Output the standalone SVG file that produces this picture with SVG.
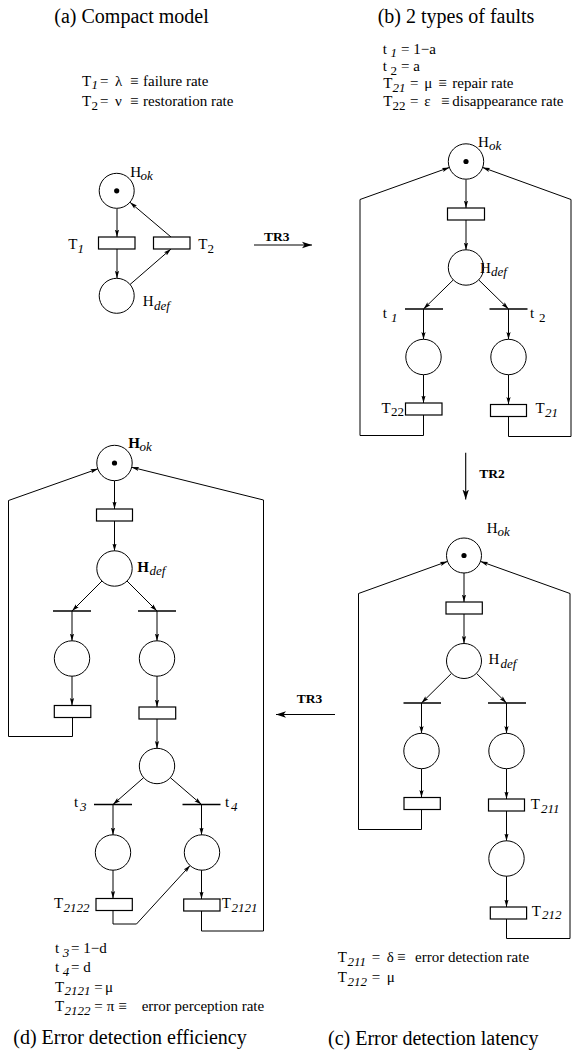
<svg xmlns="http://www.w3.org/2000/svg" width="572" height="1053" viewBox="0 0 572 1053">
<style>
text{font-family:"Liberation Serif","Times New Roman",serif;font-size:15px;fill:#000}
.ttl{font-size:20px}
.sub{font-size:13px;font-style:italic}
.up{font-style:normal}
.tr{font-size:13.5px;font-weight:bold}
.b{font-weight:bold}
.pl{fill:#fff;stroke:#000;stroke-width:1}
.tk{fill:#000}
.tt{fill:#fff;stroke:#000;stroke-width:1.2}
.bar{stroke:#000;stroke-width:1.3}
.c{fill:none;stroke:#000;stroke-width:1;marker-end:url(#ah)}
.n{fill:none;stroke:#000;stroke-width:1}
.big{fill:none;stroke:#000;stroke-width:1.1;marker-end:url(#bh)}
</style>
<defs>
<marker id="ah" markerUnits="userSpaceOnUse" markerWidth="8" markerHeight="6" refX="7.5" refY="3" orient="auto"><path d="M0,0.9 L7.5,3 L0,5.1 L1.5,3 z" fill="#000"/></marker>
<marker id="bh" markerUnits="userSpaceOnUse" markerWidth="11" markerHeight="8" refX="10" refY="4" orient="auto"><path d="M0,0.8 L10,4 L0,7.2 L2.5,4 z" fill="#000"/></marker>
</defs>
<rect width="572" height="1053" fill="#fff"/>

<!-- Titles and formulas -->
<g id="titles">
<text class="ttl" x="54.3" y="23">(a) Compact model</text>
<text class="ttl" x="377.7" y="23">(b) 2 types of faults</text>
<text class="ttl" x="13.3" y="1044">(d) Error detection efficiency</text>
<text class="ttl" x="328" y="1045">(c) Error detection latency</text>
</g>
<g id="formulas-a">
<text><tspan x="82" y="86">T</tspan><tspan class="sub" x="91.5" y="89">1</tspan><tspan x="100" y="86">=</tspan><tspan x="115" y="86">λ</tspan><tspan x="130" y="86">≡</tspan><tspan x="143" y="86">failure rate</tspan></text>
<text><tspan x="82" y="106">T</tspan><tspan class="sub up" x="91.5" y="109.5">2</tspan><tspan x="100" y="106">=</tspan><tspan x="115" y="106">ν</tspan><tspan x="130" y="106">≡</tspan><tspan x="143" y="106">restoration rate</tspan></text>
</g>
<g id="formulas-b">
<text><tspan x="382.7" y="53.5">t</tspan><tspan class="sub" x="390.5" y="57">1</tspan><tspan x="401" y="53.5">= 1−a</tspan></text>
<text><tspan x="382.7" y="71">t</tspan><tspan class="sub up" x="390.5" y="75">2</tspan><tspan x="401" y="71">= a</tspan></text>
<text><tspan x="383.3" y="88">T</tspan><tspan class="sub" x="392.5" y="91.5">21</tspan><tspan x="410" y="88">=</tspan><tspan x="424.3" y="88">μ</tspan><tspan x="438.3" y="88">≡</tspan><tspan x="452.3" y="88">repair rate</tspan></text>
<text><tspan x="383.3" y="106">T</tspan><tspan class="sub up" x="392.5" y="109.5">22</tspan><tspan x="410" y="106">=</tspan><tspan x="424.3" y="106">ε</tspan><tspan x="441" y="106">≡</tspan><tspan x="452.3" y="106">disappearance rate</tspan></text>
</g>
<g id="formulas-c">
<text><tspan x="337.7" y="962">T</tspan><tspan class="sub" x="347.5" y="965.5">211</tspan><tspan x="371.7" y="962">=</tspan><tspan x="386.7" y="962">δ</tspan><tspan x="397" y="962">≡</tspan><tspan x="415" y="962">error detection rate</tspan></text>
<text><tspan x="337.7" y="982">T</tspan><tspan class="sub" x="347.5" y="985.5">212</tspan><tspan x="371.7" y="982">=</tspan><tspan x="386.7" y="982">μ</tspan></text>
</g>
<g id="formulas-d">
<text><tspan x="55" y="953">t</tspan><tspan class="sub" x="62.7" y="957">3</tspan><tspan x="71" y="953">= 1−d</tspan></text>
<text><tspan x="55" y="972">t</tspan><tspan class="sub" x="62.7" y="976">4</tspan><tspan x="71" y="972">= d</tspan></text>
<text><tspan x="55" y="991.5">T</tspan><tspan class="sub" x="64.5" y="995">2121</tspan><tspan x="94.3" y="991.5">=</tspan><tspan x="105" y="991.5">μ</tspan></text>
<text><tspan x="55" y="1011">T</tspan><tspan class="sub" x="64.5" y="1014.5">2122</tspan><tspan x="94.3" y="1011">=</tspan><tspan x="106.7" y="1011">π</tspan><tspan x="118.3" y="1011">≡</tspan><tspan x="141.7" y="1011">error perception rate</tspan></text>
</g>

<!-- Connectors -->
<g id="connectors">
<!-- (a) -->
<line class="c" x1="117" y1="208.5" x2="117" y2="237"/>
<line class="c" x1="117" y1="249" x2="117" y2="278.3"/>
<line class="c" x1="130" y1="284.5" x2="171" y2="249"/>
<line class="c" x1="171" y1="237" x2="130" y2="202.3"/>
<!-- TR arrows -->
<line class="big" x1="254" y1="245" x2="312" y2="245"/>
<line class="big" x1="465.7" y1="452.7" x2="465.7" y2="499.5"/>
<line class="big" x1="335" y1="714.5" x2="276" y2="714.5"/>
<!-- (b) -->
<line class="c" x1="466" y1="179.5" x2="466" y2="208"/>
<line class="c" x1="466" y1="220" x2="466" y2="250"/>
<line class="c" x1="453.5" y1="279.7" x2="423.5" y2="309"/>
<line class="c" x1="478.5" y1="279.7" x2="508.5" y2="309"/>
<line class="c" x1="423.5" y1="309" x2="423.5" y2="339.5"/>
<line class="c" x1="508.5" y1="309" x2="508.5" y2="339.5"/>
<line class="c" x1="423.5" y1="374.5" x2="423.5" y2="403"/>
<line class="c" x1="508.5" y1="374.5" x2="508.5" y2="404.5"/>
<polyline class="c" points="423.5,415 423.5,435.5 360,435.5 360,199.5 449.5,167.4"/>
<polyline class="c" points="508.5,416.5 508.5,436.5 571,436.5 571,199.5 482.5,167.4"/>
<!-- (c) -->
<line class="c" x1="464" y1="573" x2="464" y2="602"/>
<line class="c" x1="464" y1="614" x2="464" y2="643.5"/>
<line class="c" x1="451.6" y1="673.3" x2="421.5" y2="703"/>
<line class="c" x1="476.4" y1="673.3" x2="506.5" y2="703"/>
<line class="c" x1="421.5" y1="703" x2="421.5" y2="733.5"/>
<line class="c" x1="506.5" y1="703" x2="506.5" y2="733.5"/>
<line class="c" x1="421.5" y1="768.5" x2="421.5" y2="797.5"/>
<line class="c" x1="506.5" y1="768.5" x2="506.5" y2="799"/>
<line class="c" x1="506.5" y1="811" x2="506.5" y2="841"/>
<line class="c" x1="506.5" y1="876" x2="506.5" y2="907"/>
<polyline class="c" points="421.5,809.5 421.5,829.5 358.5,829.5 358.5,593.5 447.5,561.4"/>
<polyline class="c" points="506.5,919 506.5,938.5 570,938.5 570,593.5 480.5,561.4"/>
<!-- (d) -->
<line class="c" x1="114.5" y1="480.5" x2="114.5" y2="509"/>
<line class="c" x1="114.5" y1="521" x2="114.5" y2="551"/>
<line class="c" x1="102.1" y1="580.9" x2="72" y2="611"/>
<line class="c" x1="126.9" y1="580.9" x2="157" y2="611"/>
<line class="c" x1="72" y1="611" x2="72" y2="641"/>
<line class="c" x1="157" y1="611" x2="157" y2="641"/>
<line class="c" x1="72" y1="676" x2="72" y2="705.5"/>
<line class="c" x1="157" y1="676" x2="157" y2="707"/>
<line class="c" x1="157" y1="719" x2="157" y2="748.5"/>
<line class="c" x1="143.8" y1="777.5" x2="113" y2="804.5"/>
<line class="c" x1="170.2" y1="777.5" x2="201.5" y2="804.5"/>
<line class="c" x1="113" y1="804.5" x2="113" y2="835"/>
<line class="c" x1="201.5" y1="804.5" x2="201.5" y2="835"/>
<line class="c" x1="113" y1="870" x2="113" y2="898.5"/>
<line class="c" x1="201.5" y1="870" x2="201.5" y2="899"/>
<polyline class="c" points="113,910.5 113,924 136.5,924 190.2,865.4"/>
<polyline class="c" points="72.5,717.5 72.5,736.5 8.5,736.5 8.5,500.5 98,468.8"/>
<polyline class="c" points="201.5,911 201.5,931 263.5,931 263.5,500 131.5,467.2"/>
</g>

<g id="tr-labels">
<text class="tr" x="264" y="241">TR3</text>
<text class="tr" x="479.3" y="478">TR2</text>
<text class="tr" x="296.7" y="703">TR3</text>
</g>

<!-- (a) nodes -->
<g id="a-Hok"><circle class="pl" cx="116.7" cy="190.8" r="17.5"/><circle class="tk" cx="116.7" cy="190.8" r="2.6"/>
<text><tspan x="130.3" y="177">H</tspan><tspan class="sub" x="140.5" y="180">ok</tspan></text></g>
<g id="a-T1"><rect class="tt" x="98.5" y="237" width="36.5" height="12"/>
<text><tspan x="68.3" y="249">T</tspan><tspan class="sub" x="77.5" y="252.5">1</tspan></text></g>
<g id="a-T2"><rect class="tt" x="153.5" y="237" width="36.5" height="12"/>
<text><tspan x="198.3" y="249">T</tspan><tspan class="sub up" x="207.5" y="252.5">2</tspan></text></g>
<g id="a-Hdef"><circle class="pl" cx="116.7" cy="295.8" r="17.5"/>
<text><tspan x="142.7" y="306">H</tspan><tspan class="sub" x="154" y="309.5">def</tspan></text></g>

<!-- (b) nodes -->
<g id="b-Hok"><circle class="pl" cx="466" cy="161.5" r="17.7"/><circle class="tk" cx="466" cy="161.5" r="2.6"/>
<text><tspan x="478" y="146.5">H</tspan><tspan class="sub" x="489" y="149.5">ok</tspan></text></g>
<g id="b-T"><rect class="tt" x="447.5" y="208" width="37" height="12"/></g>
<g id="b-Hdef"><circle class="pl" cx="466" cy="267.5" r="17.7"/>
<text><tspan x="480" y="272.7">H</tspan><tspan class="sub" x="491" y="276">def</tspan></text></g>
<g id="b-t1"><line class="bar" x1="405" y1="309" x2="443" y2="309"/>
<text><tspan x="382.7" y="318.3">t</tspan><tspan class="sub" x="391" y="322">1</tspan></text></g>
<g id="b-t2"><line class="bar" x1="489.5" y1="309" x2="527.5" y2="309"/>
<text><tspan x="530" y="318.3">t</tspan><tspan class="sub up" x="539" y="322">2</tspan></text></g>
<g id="b-P1"><circle class="pl" cx="423.5" cy="357" r="17.7"/></g>
<g id="b-P2"><circle class="pl" cx="508.5" cy="357" r="17.7"/></g>
<g id="b-T22"><rect class="tt" x="405.5" y="403" width="36.5" height="12"/>
<text><tspan x="381.5" y="412.5">T</tspan><tspan class="sub up" x="391" y="416">22</tspan></text></g>
<g id="b-T21"><rect class="tt" x="490.5" y="404.5" width="36" height="12"/>
<text><tspan x="535.5" y="413">T</tspan><tspan class="sub" x="545" y="416.5">21</tspan></text></g>

<!-- (c) nodes -->
<g id="c-Hok"><circle class="pl" cx="464" cy="555.5" r="17.5"/><circle class="tk" cx="464" cy="555.5" r="2.6"/>
<text><tspan x="486.7" y="533">H</tspan><tspan class="sub" x="497.5" y="536">ok</tspan></text></g>
<g id="c-T"><rect class="tt" x="446" y="602" width="36.3" height="12"/></g>
<g id="c-Hdef"><circle class="pl" cx="464" cy="661" r="17.5"/>
<text><tspan x="488.5" y="664">H</tspan><tspan class="sub" x="500.5" y="667.5">def</tspan></text></g>
<g id="c-t1"><line class="bar" x1="403.5" y1="703" x2="441" y2="703"/></g>
<g id="c-t2"><line class="bar" x1="488" y1="703" x2="526" y2="703"/></g>
<g id="c-P1"><circle class="pl" cx="421.5" cy="751" r="17.7"/></g>
<g id="c-P2"><circle class="pl" cx="506.5" cy="751" r="17.7"/></g>
<g id="c-T22"><rect class="tt" x="404" y="797.5" width="36.3" height="12"/></g>
<g id="c-T211"><rect class="tt" x="488.5" y="799" width="36" height="12"/>
<text><tspan x="530.7" y="809.3">T</tspan><tspan class="sub" x="541" y="812.5">211</tspan></text></g>
<g id="c-P3"><circle class="pl" cx="506.5" cy="858.5" r="17.7"/></g>
<g id="c-T212"><rect class="tt" x="490.3" y="907" width="36.3" height="12"/>
<text><tspan x="531.7" y="915.7">T</tspan><tspan class="sub" x="542" y="919">212</tspan></text></g>

<!-- (d) nodes -->
<g id="d-Hok"><circle class="pl" cx="114.5" cy="463" r="17.7"/><circle class="tk" cx="114.5" cy="463" r="2.6"/>
<text><tspan class="b" x="128.3" y="448">H</tspan><tspan class="sub" x="139.5" y="451">ok</tspan></text></g>
<g id="d-T"><rect class="tt" x="96.5" y="509" width="36" height="12"/></g>
<g id="d-Hdef"><circle class="pl" cx="114.5" cy="568.5" r="17.7"/>
<text><tspan class="b" x="137.3" y="571.7">H</tspan><tspan class="sub" x="149.5" y="575">def</tspan></text></g>
<g id="d-t1"><line class="bar" x1="53" y1="611" x2="91" y2="611"/></g>
<g id="d-t2"><line class="bar" x1="138" y1="611" x2="176" y2="611"/></g>
<g id="d-P1"><circle class="pl" cx="72" cy="658.5" r="17.7"/></g>
<g id="d-P2"><circle class="pl" cx="157" cy="658.5" r="17.7"/></g>
<g id="d-T22"><rect class="tt" x="54.3" y="705.5" width="36.5" height="12"/></g>
<g id="d-T211"><rect class="tt" x="139" y="707" width="36.7" height="12"/></g>
<g id="d-P3"><circle class="pl" cx="157" cy="766" r="17.7"/></g>
<g id="d-t3"><line class="bar" x1="94" y1="804.5" x2="132" y2="804.5"/>
<text><tspan x="74" y="807.3">t</tspan><tspan class="sub" x="80" y="811">3</tspan></text></g>
<g id="d-t4"><line class="bar" x1="182.5" y1="804.5" x2="220.5" y2="804.5"/>
<text><tspan x="225" y="807.3">t</tspan><tspan class="sub" x="231" y="811">4</tspan></text></g>
<g id="d-P4"><circle class="pl" cx="113" cy="852.5" r="17.7"/></g>
<g id="d-P5"><circle class="pl" cx="202" cy="852.5" r="17.7"/></g>
<g id="d-T2122"><rect class="tt" x="96" y="898.5" width="36.3" height="12"/>
<text><tspan x="54" y="908">T</tspan><tspan class="sub" x="63.5" y="911.5">2122</tspan></text></g>
<g id="d-T2121"><rect class="tt" x="183.7" y="899" width="36.3" height="12"/>
<text><tspan x="221.7" y="908">T</tspan><tspan class="sub" x="231.5" y="911.5">2121</tspan></text></g>
</svg>
